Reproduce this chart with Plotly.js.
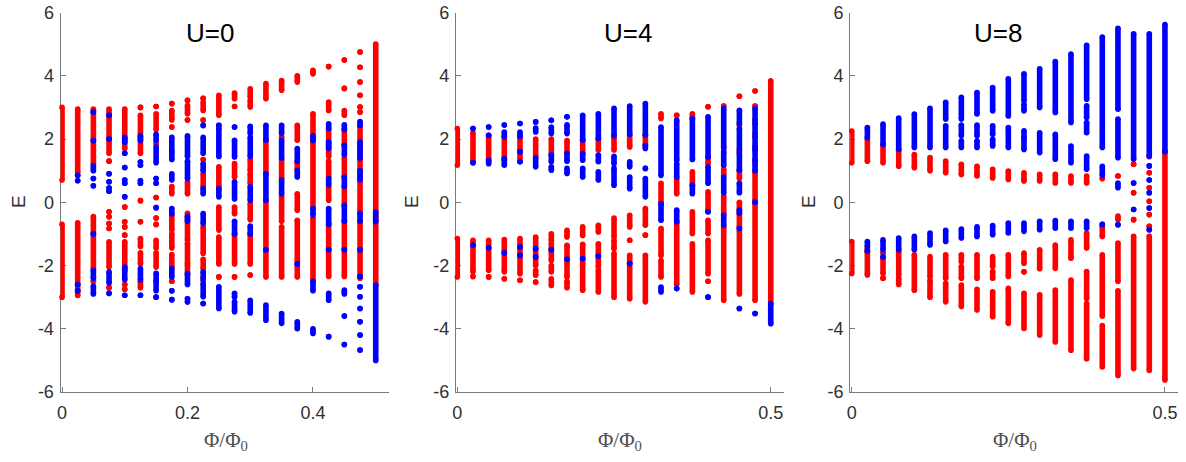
<!DOCTYPE html>
<html>
<head>
<meta charset="utf-8">
<script src="https://cdn.plot.ly/plotly-3.0.1.min.js"></script>
<style>html,body{margin:0;padding:0;background:#fff;}#chart{width:1186px;height:462px;}</style>
</head>
<body>
<div id="chart"></div>
<script>
// flux values Phi/Phi0 for each column
const flux = [0, 0.025, 0.05, 0.075, 0.1, 0.125, 0.15, 0.175, 0.2, 0.225, 0.25, 0.275, 0.3, 0.325, 0.35, 0.375, 0.4, 0.425, 0.45, 0.475, 0.5];
const panelTitles = ['U=0', 'U=4', 'U=8'];
const yTickVals = [-6, -4, -2, 0, 2, 4, 6];
const yTickText = ['-6', '-4', '-2', '0', '2', '4', '6'];
const xTickVals1 = [0, 0.2, 0.4];
const xTickText1 = ['0', '0.2', '0.4'];
const xTickVals23 = [0, 0.5];
const xTickText23 = ['0', '0.5'];

// energy levels: [flux index, E] or [flux index, Emin, Emax] (dense band)
const u0Red = [
[0,0.7,3.0],[0,-3.0,-0.7],
[1,0.95,2.95],[1,-2.95,-0.65],
[2,1.2,2.95],[2,-2.1,-0.45],[2,-2.5],
[3,1.55,2.95],[3,1.3],[3,-0.3],[3,-0.46],[3,-0.67],[3,-0.83],[3,-2.05,-1.25],[3,-2.7],
[4,1.7,2.95],[4,-0.15],[4,-0.62],[4,-0.78],[4,-1.04],[4,-2.15,-1.25],[4,-2.6],[4,-2.75],
[5,3.0],[5,1.55,2.75],[5,0.05],[5,-0.62],[5,-1.4,-1.15],[5,-1.95,-1.6],[5,-2.7,-2.5],
[6,3.03],[6,2.3,2.8],[6,1.85],[6,0.15],[6,-0.5],[6,-0.7],[6,-1.45,-1.2],[6,-2.05,-1.6],[6,-2.5],
[7,3.12],[7,2.6,2.9],[7,2.38],[7,0.27,0.5],[7,-0.88,-0.4],[7,-1.45,-1.0],[7,-2.05,-1.65],[7,-2.5],
[8,3.22],[8,2.8,3.06],[8,2.6],[8,0.27,0.64],[8,-1.2,-0.35],[8,-1.95,-1.3],[8,-2.3,-2.0],
[9,3.29],[9,2.9,3.17],[9,2.6],[9,1.35],[9,0.48,0.9],[9,-1.62,-0.78],[9,-2.1,-1.8],[9,-2.47],
[10,2.75,3.38],[10,0.48,1.12],[10,-0.88,-0.15],[10,-1.95,-1.1],[10,-2.36],
[11,3.27,3.45],[11,3.03],[11,0.8,1.22],[11,-0.36,-0.15],[11,-1.95,-1.0],[11,-2.36],
[12,3.33,3.59],[12,3.01,3.22],[12,1.0,1.35],[12,0.6,0.9],[12,-0.55,-0.04],[12,-1.95,-1.0],[12,-2.3],
[13,3.27,3.75],[13,0.9,1.96],[13,-2.36,0.06],
[14,3.54,3.85],[14,2.05],[14,0.75,1.35],[14,-0.6,0.2],[14,-2.36,-0.78],
[15,3.8,4.0],[15,1.96,2.43],[15,1.05,1.25],[15,-0.25,0.27],[15,-2.36,-0.57],
[16,4.06,4.17],[16,2.06,2.8],[16,-0.2,1.95],[16,-2.5,-0.5],
[17,4.29],[17,2.9,3.17],[17,1.45,2.3],[17,0.8,1.3],[17,0.06,0.5],[17,-2.35,-0.7],
[18,4.5],[18,3.6],[18,2.75,2.9],[18,1.8,2.3],[18,0.8,1.4],[18,-0.1,0.5],[18,-2.35,-0.6],
[19,4.75],[19,4.27],[19,3.8],[19,3.38],[19,3.01],[19,2.85],[19,1.5,2.4],[19,-0.35,1.4],[19,-2.4,-0.6],
[20,-2.62,5.0]
];
const u0Blue = [
[1,0.85],[1,0.68],[1,-2.6],[1,-2.8],
[2,2.85],[2,1.95],[2,1.0,1.15],[2,0.75],[2,0.52],[2,-1.0],[2,-2.4,-2.15],[2,-2.9,-2.65],
[3,2.75],[3,2.0],[3,0.9],[3,0.65],[3,0.45],[3,0.35],[3,-2.55,-2.2],[3,-2.88],
[4,1.9,2.05],[4,1.55],[4,1.1],[4,0.7],[4,0.6],[4,0.17],[4,-2.45,-2.05],[4,-2.94],
[5,1.95,2.1],[5,1.27],[5,1.17],[5,0.68],[5,0.6],[5,-2.45,-2.1],[5,-2.94],
[6,1.95,2.15],[6,1.25,1.75],[6,0.75],[6,0.6],[6,-0.17],[6,-2.8,-2.25],[6,-3.0],
[7,1.6,2.05],[7,1.35,1.55],[7,0.7,0.9],[7,-0.36,-0.2],[7,-2.36,-2.1],[7,-2.8],[7,-3.08],
[8,1.45,2.1],[8,0.75,1.3],[8,-0.6,-0.45],[8,-2.6,-2.25],[8,-3.05],[8,-3.15],
[9,2.43],[9,1.55,2.05],[9,1.0,1.22],[9,0.27,0.43],[9,-0.67,-0.36],[9,-2.4,-2.2],[9,-2.99,-2.57],[9,-3.2],
[10,2.43],[10,1.45,2.35],[10,0.17,0.43],[10,-3.36,-2.67],
[11,2.38],[11,1.43,1.96],[11,0.1,0.65],[11,-1.0,-0.6],[11,-3.0,-2.88],[11,-3.46,-3.15],
[12,2.17,2.4],[12,1.45,2.05],[12,0.06,0.5],[12,-1.0,-0.75],[12,-3.5,-3.1],
[13,1.96,2.43],[13,0.06,0.9],[13,-1.5],[13,-3.73,-3.25],
[14,2.17,2.43],[14,1.4,1.95],[14,0.27,0.7],[14,-3.83,-3.52],
[15,1.3,1.7],[15,0.8,1.0],[15,-1.95],[15,-4.0,-3.78],
[16,1.95,2.1],[16,-0.4,-0.2],[16,-2.8,-2.5],[16,-4.15,-4.0],
[17,2.33,2.48],[17,1.7,1.9],[17,0.55,0.75],[17,-0.7,-0.2],[17,-1.5],[17,-3.1,-2.88],[17,-4.25],
[18,2.3,2.45],[18,1.5,1.8],[18,0.5,0.8],[18,-0.6,-0.1],[18,-1.5],[18,-2.9,-2.78],[18,-3.6],[18,-4.5],
[19,2.43,2.55],[19,1.4,1.9],[19,0.7,1.0],[19,-0.6,-0.35],[19,-1.5],[19,-2.35],[19,-2.67],[19,-2.99],[19,-3.36],[19,-3.78],[19,-4.2],[19,-4.67],
[20,-0.62,-0.3],[20,-5.0,-2.62]
];

const u4Red = [
[0,1.17,2.33],[0,-2.36,-1.15],
[1,1.3,2.2],[1,-2.2,-1.2],[1,-2.35],
[2,1.35,2.07],[2,-2.15,-1.2],[2,-2.36],
[3,1.33,2.07],[3,-2.2,-1.18],[3,-2.42],
[4,1.38,2.07],[4,-2.26,-1.15],[4,-2.47],
[5,1.45,2.0],[5,-2.0,-1.1],[5,-2.31,-2.15],[5,-2.52],
[6,1.5,2.0],[6,-1.2,-1.0],[6,-1.84,-1.3],[6,-2.2,-2.0],[6,-2.63,-2.42],
[7,1.55,1.95],[7,-1.1,-0.89],[7,-2.36,-1.36],[7,-2.7,-2.5],
[8,1.55,1.96],[8,-1.05,-0.78],[8,-2.78,-1.33],
[9,1.65,2.01],[9,-0.94,-0.73],[9,-2.05,-1.31],[9,-2.84,-2.15],
[10,1.65,2.07],[10,-1.1,-0.5],[10,-1.47,-1.2],[10,-3.0,-1.62],
[11,1.75,2.12],[11,-0.78,-0.41],[11,-1.2],[11,-3.05,-1.68],
[12,1.8,2.12],[12,-0.73,-0.2],[12,-1.04],[12,-3.15,-1.68],
[13,2.65,2.8],[13,-0.04,0.6],[13,-1.68,-0.83],[13,-2.36,-1.84],
[14,2.75],[14,0.27,0.75],[14,-2.6,-0.65],
[15,2.65,2.8],[15,0.54,0.96],[15,-0.99,-0.3],[15,-2.84,-1.31],
[16,3.02],[16,1.22,1.43],[16,-0.25,0.33],[16,-0.99,-0.57],[16,-2.26,-1.2],[16,-2.5],
[17,3.04],[17,1.7],[17,0.85,1.05],[17,-0.36,0.2],[17,-3.1,-0.78],
[18,3.35],[18,2.44],[18,1.6],[18,0.75,1.01],[18,-0.25,0.0],[18,-0.78,-0.36],[18,-2.9,-0.9],
[19,3.52],[19,3.04],[19,2.54],[19,2.12],[19,1.7],[19,1.3],[19,0.06,0.96],[19,-3.1,-0.04],
[20,-3.2,3.84]
];
const u4Blue = [
[1,2.33],[1,1.25],[1,-1.36],
[2,2.38],[2,2.12],[2,1.22,1.33],[2,-1.44],
[3,2.44],[3,2.07,2.22],[3,1.17,1.38],[3,-1.6],
[4,2.49],[4,2.07,2.22],[4,1.6],[4,1.28],[4,-1.42],[4,-1.68],
[5,2.54],[5,2.22,2.35],[5,1.12,1.4],[5,-1.47],[5,-1.73],
[6,2.59],[6,2.17,2.38],[6,1.28,1.5],[6,1.01,1.12],[6,-1.5],
[7,2.7],[7,2.17,2.45],[7,1.3,1.55],[7,0.91,1.07],[7,-1.8],
[8,1.96,2.75],[8,1.33,1.54],[8,0.8,1.07],[8,-1.78],
[9,2.01,2.8],[9,1.28,1.49],[9,0.7,0.96],[9,-1.7],
[10,2.1,2.97],[10,1.22,1.45],[10,0.54,1.07],
[11,2.15,3.04],[11,1.12,1.28],[11,0.43,0.8],[11,-1.94],
[12,2.12,3.12],[12,1.7,1.8],[12,1.07],[12,0.17,0.75],
[13,0.85,2.38],[13,-0.57,-0.04],[13,-2.84,-2.68],
[14,1.33,2.6],[14,0.8,1.22],[14,-0.62,-0.25],[14,-2.73],
[15,1.35,2.65],[15,0.27,0.54],
[16,1.43,2.7],[16,0.6,1.12],[16,-0.3],[16,-3.0],
[17,1.75,2.96],[17,1.17,1.6],[17,0.3,0.8],[17,-0.73,-0.41],
[18,2.49,2.91],[18,1.65,2.33],[18,1.01,1.54],[18,0.3,0.6],[18,-0.35,-0.25],[18,-0.83],[18,-3.36],
[19,2.6,2.96],[19,2.17,2.49],[19,1.75,2.07],[19,1.33,1.65],[19,1.0,1.22],[19,0.0],[19,-3.52],
[20,-3.84,-3.2]
];

const u8Red = [
[0,1.25,2.25],[0,-2.25,-1.24],
[1,1.3,2.0],[1,-1.5,-1.45],[1,-2.3,-1.56],
[2,1.25,1.8],[2,-1.6],[2,-2.25,-1.77],[2,-2.4],
[3,1.14,1.67],[3,-2.3,-1.56],[3,-2.6,-2.4],
[4,1.09,1.51],[4,-2.78,-1.66],
[5,1.0,1.41],[5,-2.35,-1.72],[5,-3.0,-2.46],
[6,0.93,1.3],[6,-2.4,-1.66],[6,-3.15,-2.56],
[7,0.88,1.2],[7,-1.88,-1.66],[7,-2.4,-2.03],[7,-3.3,-2.62],
[8,0.83,1.14],[8,-2.4,-1.66],[8,-3.41,-2.75],
[9,0.77,1.04],[9,-2.03,-1.72],[9,-2.4,-2.19],[9,-3.62,-2.83],
[10,0.72,0.99],[10,-2.35,-1.66],[10,-3.83,-2.72],
[11,0.67,0.93],[11,-1.93,-1.61],[11,-2.2],[11,-3.99,-2.88],
[12,0.67,0.88],[12,-2.1,-1.5],[12,-4.2,-2.93],
[13,0.61,0.88],[13,-2.09,-1.35],[13,-4.42,-2.78],
[14,0.61,0.83],[14,-1.77,-1.19],[14,-4.68,-2.46],
[15,0.61,0.83],[15,-1.45,-0.97],[15,-3.04,-2.19],[15,-4.95,-3.2],
[16,0.75],[16,-1.08,-0.75],[16,-3.6,-1.66],[16,-5.21,-3.9],
[17,0.83],[17,-0.55,-0.44],[17,-2.5,-1.29],[17,-5.48,-2.8],
[18,1.2],[18,0.3],[18,-0.55],[18,-5.26,-1.08],
[19,1.45],[19,0.93],[19,0.46],[19,0.03],[19,-0.39],[19,-0.76],[19,-5.32,-1.08],
[20,-5.62,1.6]
];
const u8Blue = [
[1,2.04,2.36],[1,-1.4,-1.24],[1,-1.55],
[2,1.83,2.47],[2,-1.5,-1.19],[2,-1.72],
[3,1.67,2.66],[3,-1.5,-1.13],
[4,1.73,2.79],[4,-1.5,-1.08],
[5,1.73,2.97],[5,-1.35,-0.97],
[6,2.63,3.16],[6,1.73,2.42],[6,-1.24,-0.89],
[7,2.63,3.32],[7,2.1,2.44],[7,1.73,1.94],[7,-1.13,-0.85],
[8,2.79,3.47],[8,2.1,2.44],[8,1.73,1.94],[8,-1.08,-0.78],
[9,2.89,3.63],[9,2.15,2.42],[9,1.78,1.99],[9,-1.03,-0.74],
[10,2.73,3.9],[10,1.73,2.36],[10,-0.97,-0.66],
[11,3.21,4.06],[11,2.89,3.1],[11,2.04,2.26],[11,1.67,1.99],[11,-0.92,-0.66],
[12,3.0,4.22],[12,1.57,2.2],[12,-0.87,-0.6],
[13,2.84,4.45],[13,1.36,2.15],[13,-0.82,-0.58],
[14,2.52,4.69],[14,1.25,1.78],[14,-0.82,-0.6],
[15,3.26,4.96],[15,2.68,3.05],[15,2.2,2.52],[15,1.04,1.46],[15,-0.82,-0.6],
[16,1.73,5.22],[16,0.85,1.14],[16,-0.7],
[17,2.94,5.5],[17,1.41,2.63],[17,0.46,0.61],[17,-0.71],
[18,1.36,5.33],[18,0.61],[18,-0.23],
[19,1.46,5.33],[19,1.15],[19,0.7],[19,0.3],[19,-0.18],[19,-0.87],
[20,1.6,5.62]
];

const RED = '#ff0000', BLUE = '#0000ff';
const DOT = 5.6;

function levels(segs, color, xa, ya) {
  const x = [], y = [];
  segs.forEach(s => {
    const f = flux[s[0]];
    const lo = s[1], hi = s.length > 2 ? s[2] : s[1];
    x.push(f, f, null);
    y.push(lo, hi, null);
  });
  return {
    type: 'scatter', mode: 'lines+markers', x: x, y: y, xaxis: xa, yaxis: ya,
    line: {color: color, width: DOT}, marker: {color: color, size: DOT},
    cliponaxis: false, connectgaps: false, showlegend: false, hoverinfo: 'skip'
  };
}

const data = [
  levels(u0Red, RED, 'x', 'y'), levels(u0Blue, BLUE, 'x', 'y'),
  levels(u4Red, RED, 'x2', 'y2'), levels(u4Blue, BLUE, 'x2', 'y2'),
  levels(u8Red, RED, 'x3', 'y3'), levels(u8Blue, BLUE, 'x3', 'y3')
];

const W = 1186, H = 462;
const axColor = '#7a7a7a';
const FONT = 'Liberation Sans, Arial, Helvetica, sans-serif';
const tickFont = {family: FONT, size: 18, color: '#303030'};
const yDom = [(H - 392) / H, (H - 12.5) / H];
const X0 = -0.0024, X1 = 0.521;
const xDoms = [[60.5 / W, 388.9 / W], [455.8 / W, 783.9 / W], [850.2 / W, 1178.1 / W]];

function xAxis(i, tv, tt) {
  return {domain: xDoms[i], range: [X0, X1], anchor: i === 0 ? 'y' : 'y' + (i + 1),
    showline: true, linecolor: axColor, linewidth: 1, ticks: 'inside', ticklen: 5,
    tickcolor: axColor, tickvals: tv, ticktext: tt, tickfont: tickFont, ticklabelstandoff: 4,
    showgrid: false, zeroline: false, layer: 'below traces', fixedrange: true};
}
function yAxis(i) {
  return {domain: yDom, range: [-6, 6], anchor: i === 0 ? 'x' : 'x' + (i + 1),
    showline: true, linecolor: axColor, linewidth: 1, ticks: 'inside', ticklen: 5,
    tickcolor: axColor, tickvals: yTickVals, ticktext: yTickText, tickfont: tickFont, ticklabelstandoff: 2,
    showgrid: false, zeroline: false, layer: 'below traces', fixedrange: true};
}

const titleX = [0.236, 0.272, 0.233];
const annotations = [];
panelTitles.forEach((t, i) => {
  annotations.push({text: t, xref: i === 0 ? 'x' : 'x' + (i + 1), yref: i === 0 ? 'y' : 'y' + (i + 1),
    x: titleX[i], y: 5.34, showarrow: false, xanchor: 'center', yanchor: 'middle',
    font: {family: FONT, size: 26, color: '#000'}});
  const cx = [225.5, 620.3, 1014.9][i] / W;
  annotations.push({text: 'Φ/Φ<sub>0</sub>',
    xref: 'paper', yref: 'paper', x: cx, y: (H - 441) / H, showarrow: false,
    xanchor: 'center', yanchor: 'middle',
    font: {family: 'Liberation Serif, Times New Roman, serif', size: 21, color: '#505050'}});
  const ex = [19, 412, 809][i];
  annotations.push({text: 'E', xref: 'paper', yref: 'paper', x: ex / W, y: (H - 202) / H,
    showarrow: false, textangle: -90, xanchor: 'center', yanchor: 'middle',
    font: {family: FONT, size: 19, color: '#303030'}});
});

const layout = {
  width: W, height: H, margin: {l: 0, r: 0, t: 0, b: 0},
  paper_bgcolor: '#fff', plot_bgcolor: '#fff', showlegend: false,
  xaxis: xAxis(0, xTickVals1, xTickText1), yaxis: yAxis(0),
  xaxis2: xAxis(1, xTickVals23, xTickText23), yaxis2: yAxis(1),
  xaxis3: xAxis(2, xTickVals23, xTickText23), yaxis3: yAxis(2),
  annotations: annotations
};

Plotly.newPlot('chart', data, layout, {displayModeBar: false, staticPlot: true});
</script>
</body>
</html>
